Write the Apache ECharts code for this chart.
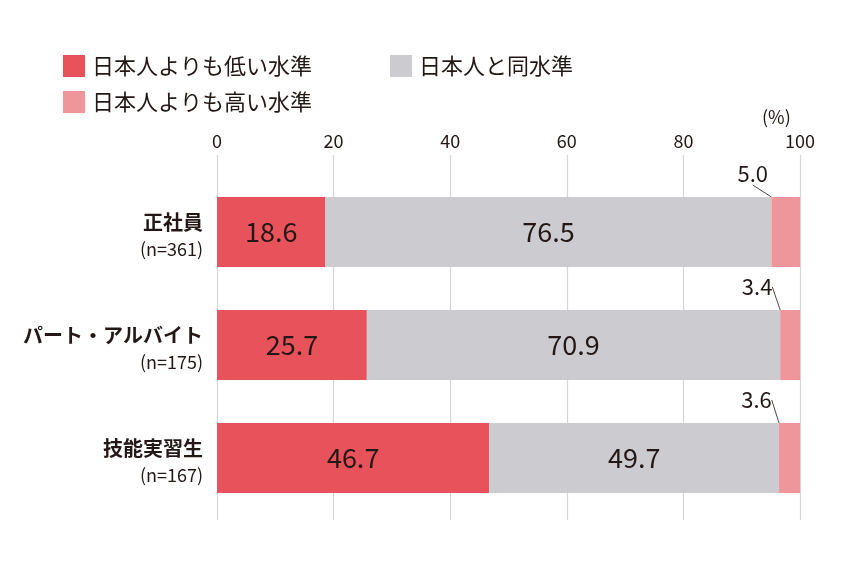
<!DOCTYPE html>
<html>
<head>
<meta charset="utf-8">
<script src="https://cdn.jsdelivr.net/npm/echarts@6/dist/echarts.min.js"></script>
<style>
  html, body { margin: 0; padding: 0; background: #fff; }
  #chart { width: 846px; height: 580px; }
</style>
</head>
<body>
<div id="chart"></div>
<script>
// データ
var categories = ['正社員', 'パート・アルバイト', '技能実習生'];
var sampleSizes = ['(n=361)', '(n=175)', '(n=167)'];
var lowValues = [18.6, 25.7, 46.7];
var sameValues = [76.5, 70.9, 49.7];
var highValues = [5.0, 3.4, 3.6];
var xTicks = [0, 20, 40, 60, 80, 100];
var seriesNames = ['日本人よりも低い水準', '日本人と同水準', '日本人よりも高い水準'];

var FONT = '"Noto Sans CJK JP", "Noto Sans", sans-serif';
var TEXT = '#231815';
var colors = ['#e8535b', '#cbcbd0', '#ef969a'];

var chart = echarts.init(document.getElementById('chart'));

var legendBase = {
  icon: 'rect',
  itemWidth: 22,
  itemHeight: 22,
  selectedMode: false,
  textStyle: { fontFamily: FONT, fontSize: 22, color: TEXT, padding: [0, 0, 0, 2] }
};

function valueLabel(size) {
  return {
    show: true,
    position: 'inside',
    fontFamily: FONT,
    fontSize: size,
    color: TEXT,
    formatter: function (p) { return p.value.toFixed(1); }
  };
}

var option = {
  backgroundColor: '#fff',
  textStyle: { fontFamily: FONT },
  legend: [
    Object.assign({ left: 58, top: 50, data: [seriesNames[0]] }, legendBase),
    Object.assign({ left: 385, top: 50, data: [seriesNames[1]] }, legendBase),
    Object.assign({ left: 58, top: 86, data: [seriesNames[2]] }, legendBase)
  ],
  graphic: [{
    type: 'text',
    left: 762,
    top: 108,
    style: { text: '(%)', fontFamily: FONT, fontSize: 18, fill: TEXT }
  }],
  grid: [
    // 目盛線用
    { left: 217, right: 46, top: 155, bottom: 60 },
    // 棒グラフ用
    { left: 217, right: 46, top: 175.5, bottom: 65.5 }
  ],
  xAxis: [{
    gridIndex: 0,
    type: 'value',
    position: 'top',
    min: xTicks[0],
    max: xTicks[xTicks.length - 1],
    interval: 20,
    axisLine: { show: false },
    axisTick: { show: false },
    axisLabel: { fontFamily: FONT, fontSize: 18, color: TEXT, margin: 5 },
    splitLine: { lineStyle: { color: '#d5d5d5', width: 1.2 } }
  }, {
    gridIndex: 1,
    type: 'value',
    min: 0,
    max: 100,
    show: false,
    splitLine: { show: false }
  }],
  yAxis: [{
    gridIndex: 0,
    type: 'category',
    data: categories,
    show: false
  }, {
    gridIndex: 1,
    type: 'category',
    data: categories,
    inverse: true,
    axisLine: { show: false },
    axisTick: { show: false },
    axisLabel: {
      margin: 14,
      align: 'right',
      padding: [7, 0, 0, 0],
      formatter: function (v, i) {
        return '{a|' + v + '}\n{b|' + sampleSizes[i] + '}';
      },
      rich: {
        a: { fontFamily: FONT, fontSize: 20, fontWeight: 'bold', color: TEXT, lineHeight: 27, align: 'right' },
        b: { fontFamily: FONT, fontSize: 18, color: TEXT, lineHeight: 27, align: 'right' }
      }
    }
  }],
  series: [{
    name: seriesNames[0],
    type: 'bar',
    stack: 'total',
    xAxisIndex: 1,
    yAxisIndex: 1,
    barWidth: 70,
    itemStyle: { color: colors[0] },
    label: valueLabel(27),
    data: lowValues
  }, {
    name: seriesNames[1],
    type: 'bar',
    stack: 'total',
    xAxisIndex: 1,
    yAxisIndex: 1,
    barWidth: 70,
    itemStyle: { color: colors[1] },
    label: valueLabel(27),
    data: sameValues
  }, {
    name: seriesNames[2],
    type: 'bar',
    stack: 'total',
    xAxisIndex: 1,
    yAxisIndex: 1,
    barWidth: 70,
    itemStyle: { color: colors[2] },
    label: valueLabel(22),
    labelLine: { show: true, lineStyle: { color: TEXT, width: 0.8 } },
    labelLayout: { dx: -33, dy: -58 },
    data: highValues
  }]
};

chart.setOption(option);
</script>
</body>
</html>
